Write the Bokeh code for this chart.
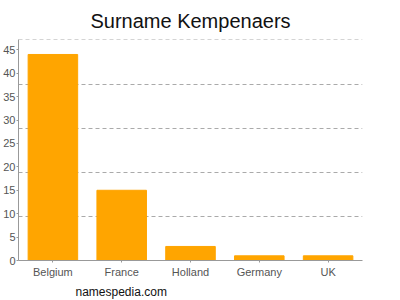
from bokeh.plotting import figure
from bokeh.models import Range1d, FixedTicker, Title, ColumnDataSource
from bokeh.embed import file_html
from bokeh.resources import INLINE

countries = ["Belgium", "France", "Holland", "Germany", "UK"]
counts = [44, 15, 3, 1, 1]
y_ticks = [0, 5, 10, 15, 20, 25, 30, 35, 40, 45]
y_max = 47.1

src = ColumnDataSource(dict(x=countries, top=counts))

p = figure(width=400, height=300, x_range=countries, y_range=Range1d(0, y_max + 0.1),
           output_backend="svg", toolbar_location=None,
           min_border_left=0, min_border_right=38, min_border_top=0, min_border_bottom=0)
p.outline_line_color = None
p.background_fill_color = "white"
p.border_fill_color = "white"
p.x_range.range_padding = 0

p.vbar(x="x", top="top", width=0.72, source=src, color="#FFA500")

p.title.text = "Surname Kempenaers"
p.title.align = "center"
p.title.text_font = "Liberation Sans"
p.title.text_font_size = "20px"
p.title.text_font_style = "normal"
p.title.text_color = "#111111"
p.title.offset = 0
p.title.standoff = 15

foot = Title(text="namespedia.com", align="left", offset=57,
             text_font="Liberation Sans", text_font_size="12px",
             text_font_style="normal", text_color="#111111", standoff=4)
p.add_layout(foot, "below")

for ax in (p.xaxis[0], p.yaxis[0]):
    ax.axis_line_color = "#999999"
    ax.major_tick_line_color = "#999999"
    ax.minor_tick_line_color = None
    ax.major_label_text_font = "Liberation Sans"
    ax.major_label_text_font_size = "11px"
    ax.major_label_text_color = "#555555"
    ax.major_tick_in = 0
    ax.major_tick_out = 2
    ax.major_label_standoff = 1

p.yaxis.ticker = FixedTicker(ticks=y_ticks)
p.xaxis.major_label_standoff = 3

p.xgrid.grid_line_color = None
p.ygrid.ticker = FixedTicker(ticks=[y_max * i / 5 for i in range(1, 6)])
p.ygrid.grid_line_color = "#aaaaaa"
p.ygrid.grid_line_dash = "4 3"
p.ygrid.grid_line_width = 1

open("out.html", "w").write(file_html(p, INLINE))
